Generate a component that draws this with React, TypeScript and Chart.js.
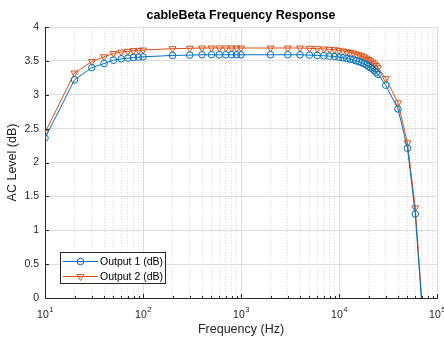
import React, { useEffect, useRef } from 'react';
import { Chart, registerables } from 'chart.js';

Chart.register(...registerables);

const FONT = '"Liberation Sans", Arial, Helvetica, sans-serif';
const AXIS_COLOR = '#262626';
const BLUE = '#0072BD';
const ORANGE = '#D95319';

const chartTitle = 'cableBeta Frequency Response';
const xAxisTitle = 'Frequency (Hz)';
const yAxisTitle = 'AC Level (dB)';
const seriesNames = ['Output 1 (dB)', 'Output 2 (dB)'];

const frequencies = [
  10, 20, 30, 40, 50, 60, 70, 80, 90, 100,
  200, 300, 400, 500, 600, 700, 800, 900, 1000,
  2000, 3000, 4000, 5000, 6000, 7000, 8000, 9000, 10000,
  11000, 12000, 13000, 14000, 15000, 16000, 17000, 18000, 19000, 20000,
  21000, 22000, 23000, 24000, 25000,
  30000, 40000, 50000, 60000, 70000,
];

const output1 = [
  2.36, 3.22, 3.40, 3.46, 3.51, 3.53, 3.54, 3.55, 3.555, 3.56,
  3.58, 3.585, 3.59, 3.59, 3.59, 3.59, 3.59, 3.59, 3.59,
  3.59, 3.59, 3.59, 3.585, 3.58, 3.575, 3.57, 3.565, 3.555,
  3.545, 3.535, 3.525, 3.515, 3.50, 3.49, 3.475, 3.46, 3.44, 3.42,
  3.40, 3.38, 3.355, 3.33, 3.30,
  3.14, 2.79, 2.21, 1.24, -0.10,
];

const output2 = [
  2.44, 3.32, 3.49, 3.56, 3.61, 3.63, 3.64, 3.65, 3.655, 3.66,
  3.68, 3.685, 3.69, 3.69, 3.69, 3.69, 3.69, 3.69, 3.69,
  3.69, 3.69, 3.69, 3.685, 3.68, 3.675, 3.67, 3.665, 3.655,
  3.645, 3.635, 3.625, 3.615, 3.60, 3.59, 3.575, 3.56, 3.54, 3.52,
  3.50, 3.48, 3.455, 3.43, 3.40,
  3.24, 2.88, 2.29, 1.33, -0.04,
];

const xMajorTicks = [10, 100, 1000, 10000, 100000];
const xTickExponents = ['1', '2', '3', '4', '5'];
const yMin = 0;
const yMax = 4;
const yStep = 0.5;

function buildXGridTicks() {
  const out: { value: number; major: boolean }[] = [];
  for (let d = 0; d < xMajorTicks.length - 1; d++) {
    for (let m = 1; m <= 9; m++) out.push({ value: xMajorTicks[d] * m, major: m === 1 });
  }
  out.push({ value: xMajorTicks[xMajorTicks.length - 1], major: true });
  return out;
}

function drawMarker(ctx: CanvasRenderingContext2D, kind: string, x: number, y: number, r: number) {
  ctx.beginPath();
  if (kind === 'circle') {
    ctx.arc(x, y, r, 0, Math.PI * 2);
  } else {
    let rad = Math.PI;
    ctx.moveTo(x + Math.sin(rad) * r, y - Math.cos(rad) * r);
    rad += (2 * Math.PI) / 3;
    ctx.lineTo(x + Math.sin(rad) * r, y - Math.cos(rad) * r);
    rad += (2 * Math.PI) / 3;
    ctx.lineTo(x + Math.sin(rad) * r, y - Math.cos(rad) * r);
    ctx.closePath();
  }
  ctx.stroke();
}

const overlayPlugin = {
  id: 'matlabOverlay',
  afterDraw(chart: any) {
    const { ctx, chartArea, scales } = chart;
    const xs = scales.x;
    const ys = scales.y;
    ctx.save();

    // inward tick marks
    ctx.strokeStyle = AXIS_COLOR;
    ctx.lineWidth = 1;
    ctx.setLineDash([]);
    ctx.beginPath();
    xs.ticks.forEach((t: any) => {
      const px = Math.round(xs.getPixelForValue(t.value)) + 0.5;
      const len = t.major ? 4 : 2;
      ctx.moveTo(px, chartArea.bottom);
      ctx.lineTo(px, chartArea.bottom - len);
    });
    ys.ticks.forEach((t: any) => {
      const py = Math.round(ys.getPixelForValue(t.value)) + 0.5;
      ctx.moveTo(chartArea.left, py);
      ctx.lineTo(chartArea.left + 4, py);
    });
    ctx.stroke();

    // x tick labels with superscript exponents
    ctx.fillStyle = AXIS_COLOR;
    ctx.textBaseline = 'alphabetic';
    ctx.textAlign = 'left';
    const baseY = chartArea.bottom + 19.5;
    xMajorTicks.forEach((v, i) => {
      const px = xs.getPixelForValue(v);
      ctx.font = `10.5px ${FONT}`;
      const w1 = ctx.measureText('10').width;
      ctx.font = `7.5px ${FONT}`;
      const w2 = ctx.measureText(xTickExponents[i]).width;
      const start = px - (w1 + w2) / 2;
      ctx.font = `10.5px ${FONT}`;
      ctx.fillText('10', start, baseY);
      ctx.font = `7.5px ${FONT}`;
      ctx.fillText(xTickExponents[i], start + w1 + 0.5, baseY - 5.5);
    });

    // legend
    const lx = chartArea.left + 15;
    const ly = chartArea.bottom - 46;
    const lw = 105;
    const lh = 31;
    ctx.fillStyle = '#ffffff';
    ctx.fillRect(lx, ly, lw, lh);
    ctx.strokeStyle = AXIS_COLOR;
    ctx.lineWidth = 1;
    ctx.strokeRect(lx + 0.5, ly + 0.5, lw, lh);
    const rows = [
      { y: ly + 9, color: BLUE, kind: 'circle', r: 3.3, label: seriesNames[0] },
      { y: ly + 24, color: ORANGE, kind: 'triangle', r: 4, label: seriesNames[1] },
    ];
    rows.forEach((row) => {
      ctx.strokeStyle = row.color;
      ctx.lineWidth = 1;
      ctx.beginPath();
      ctx.moveTo(lx + 3, row.y + 0.5);
      ctx.lineTo(lx + 38, row.y + 0.5);
      ctx.stroke();
      drawMarker(ctx, row.kind, lx + 20.5, row.y + 0.5, row.r);
      ctx.fillStyle = '#000000';
      ctx.font = `10.5px ${FONT}`;
      ctx.textBaseline = 'middle';
      ctx.textAlign = 'left';
      ctx.fillText(row.label, lx + 40, row.y + 1);
    });

    ctx.restore();
  },
};

export default function App() {
  const canvasRef = useRef<HTMLCanvasElement | null>(null);

  useEffect(() => {
    if (!canvasRef.current) return;
    const chart = new Chart(canvasRef.current, {
      type: 'line',
      data: {
        datasets: [
          {
            label: seriesNames[0],
            data: frequencies.map((f, i) => ({ x: f, y: output1[i] })),
            borderColor: BLUE,
            borderWidth: 1,
            pointStyle: 'circle',
            pointRadius: 3.3,
            pointBorderWidth: 1,
            pointBorderColor: BLUE,
            pointBackgroundColor: 'rgba(0,0,0,0)',
            fill: false,
            tension: 0,
          },
          {
            label: seriesNames[1],
            data: frequencies.map((f, i) => ({ x: f, y: output2[i] })),
            borderColor: ORANGE,
            borderWidth: 1,
            pointStyle: 'triangle',
            pointRotation: 180,
            pointRadius: 4,
            pointBorderWidth: 1,
            pointBorderColor: ORANGE,
            pointBackgroundColor: 'rgba(0,0,0,0)',
            fill: false,
            tension: 0,
          },
        ],
      },
      options: {
        responsive: false,
        animation: false,
        devicePixelRatio: 1,
        events: [],
        layout: { padding: { left: 0, right: 7, top: 0, bottom: 0 } },
        plugins: {
          legend: { display: false },
          tooltip: { enabled: false },
          title: {
            display: true,
            text: chartTitle,
            fullSize: false,
            color: '#000000',
            font: { family: FONT, size: 12.5, weight: 'bold' },
            padding: { top: 8, bottom: 4 },
          },
        },
        scales: {
          x: {
            type: 'logarithmic',
            min: xMajorTicks[0],
            max: xMajorTicks[xMajorTicks.length - 1],
            afterBuildTicks: (axis: any) => {
              axis.ticks = buildXGridTicks();
            },
            afterFit: (axis: any) => {
              axis.height = 42;
              axis.paddingLeft = 0;
              axis.paddingRight = 0;
            },
            ticks: {
              autoSkip: false,
              maxRotation: 0,
              callback: () => '',
            },
            grid: {
              drawTicks: false,
              lineWidth: 1,
              color: (c: any) => (c.tick && c.tick.major ? '#dedede' : '#d8d8d8'),
            },
            border: {
              display: true,
              color: AXIS_COLOR,
              width: 1,
              dash: (c: any) => (c.tick && !c.tick.major ? [1, 2] : []),
            },
            title: {
              display: true,
              text: xAxisTitle,
              color: AXIS_COLOR,
              font: { family: FONT, size: 12.5 },
              padding: { top: 0, bottom: 2.5 },
            },
          },
          y: {
            type: 'linear',
            min: yMin,
            max: yMax,
            afterFit: (axis: any) => {
              axis.width = 45;
              axis.paddingTop = 0;
              axis.paddingBottom = 0;
            },
            ticks: {
              stepSize: yStep,
              padding: 6,
              color: AXIS_COLOR,
              font: { family: FONT, size: 10.5 },
              callback: (v: any) => String(Number(v)),
            },
            grid: {
              drawTicks: false,
              lineWidth: 1,
              color: '#dedede',
            },
            border: { display: true, color: AXIS_COLOR, width: 1 },
            title: {
              display: true,
              text: yAxisTitle,
              color: AXIS_COLOR,
              font: { family: FONT, size: 12.5 },
              padding: { top: 5.5, bottom: 0 },
            },
          },
        },
      },
      plugins: [overlayPlugin],
    } as any);
    return () => chart.destroy();
  }, []);

  return (
    <div style={{ position: 'absolute', left: 0, top: 0, width: 444, height: 340, background: '#ffffff' }}>
      <canvas ref={canvasRef} width={444} height={340} style={{ display: 'block', width: 444, height: 340 }} />
    </div>
  );
}
